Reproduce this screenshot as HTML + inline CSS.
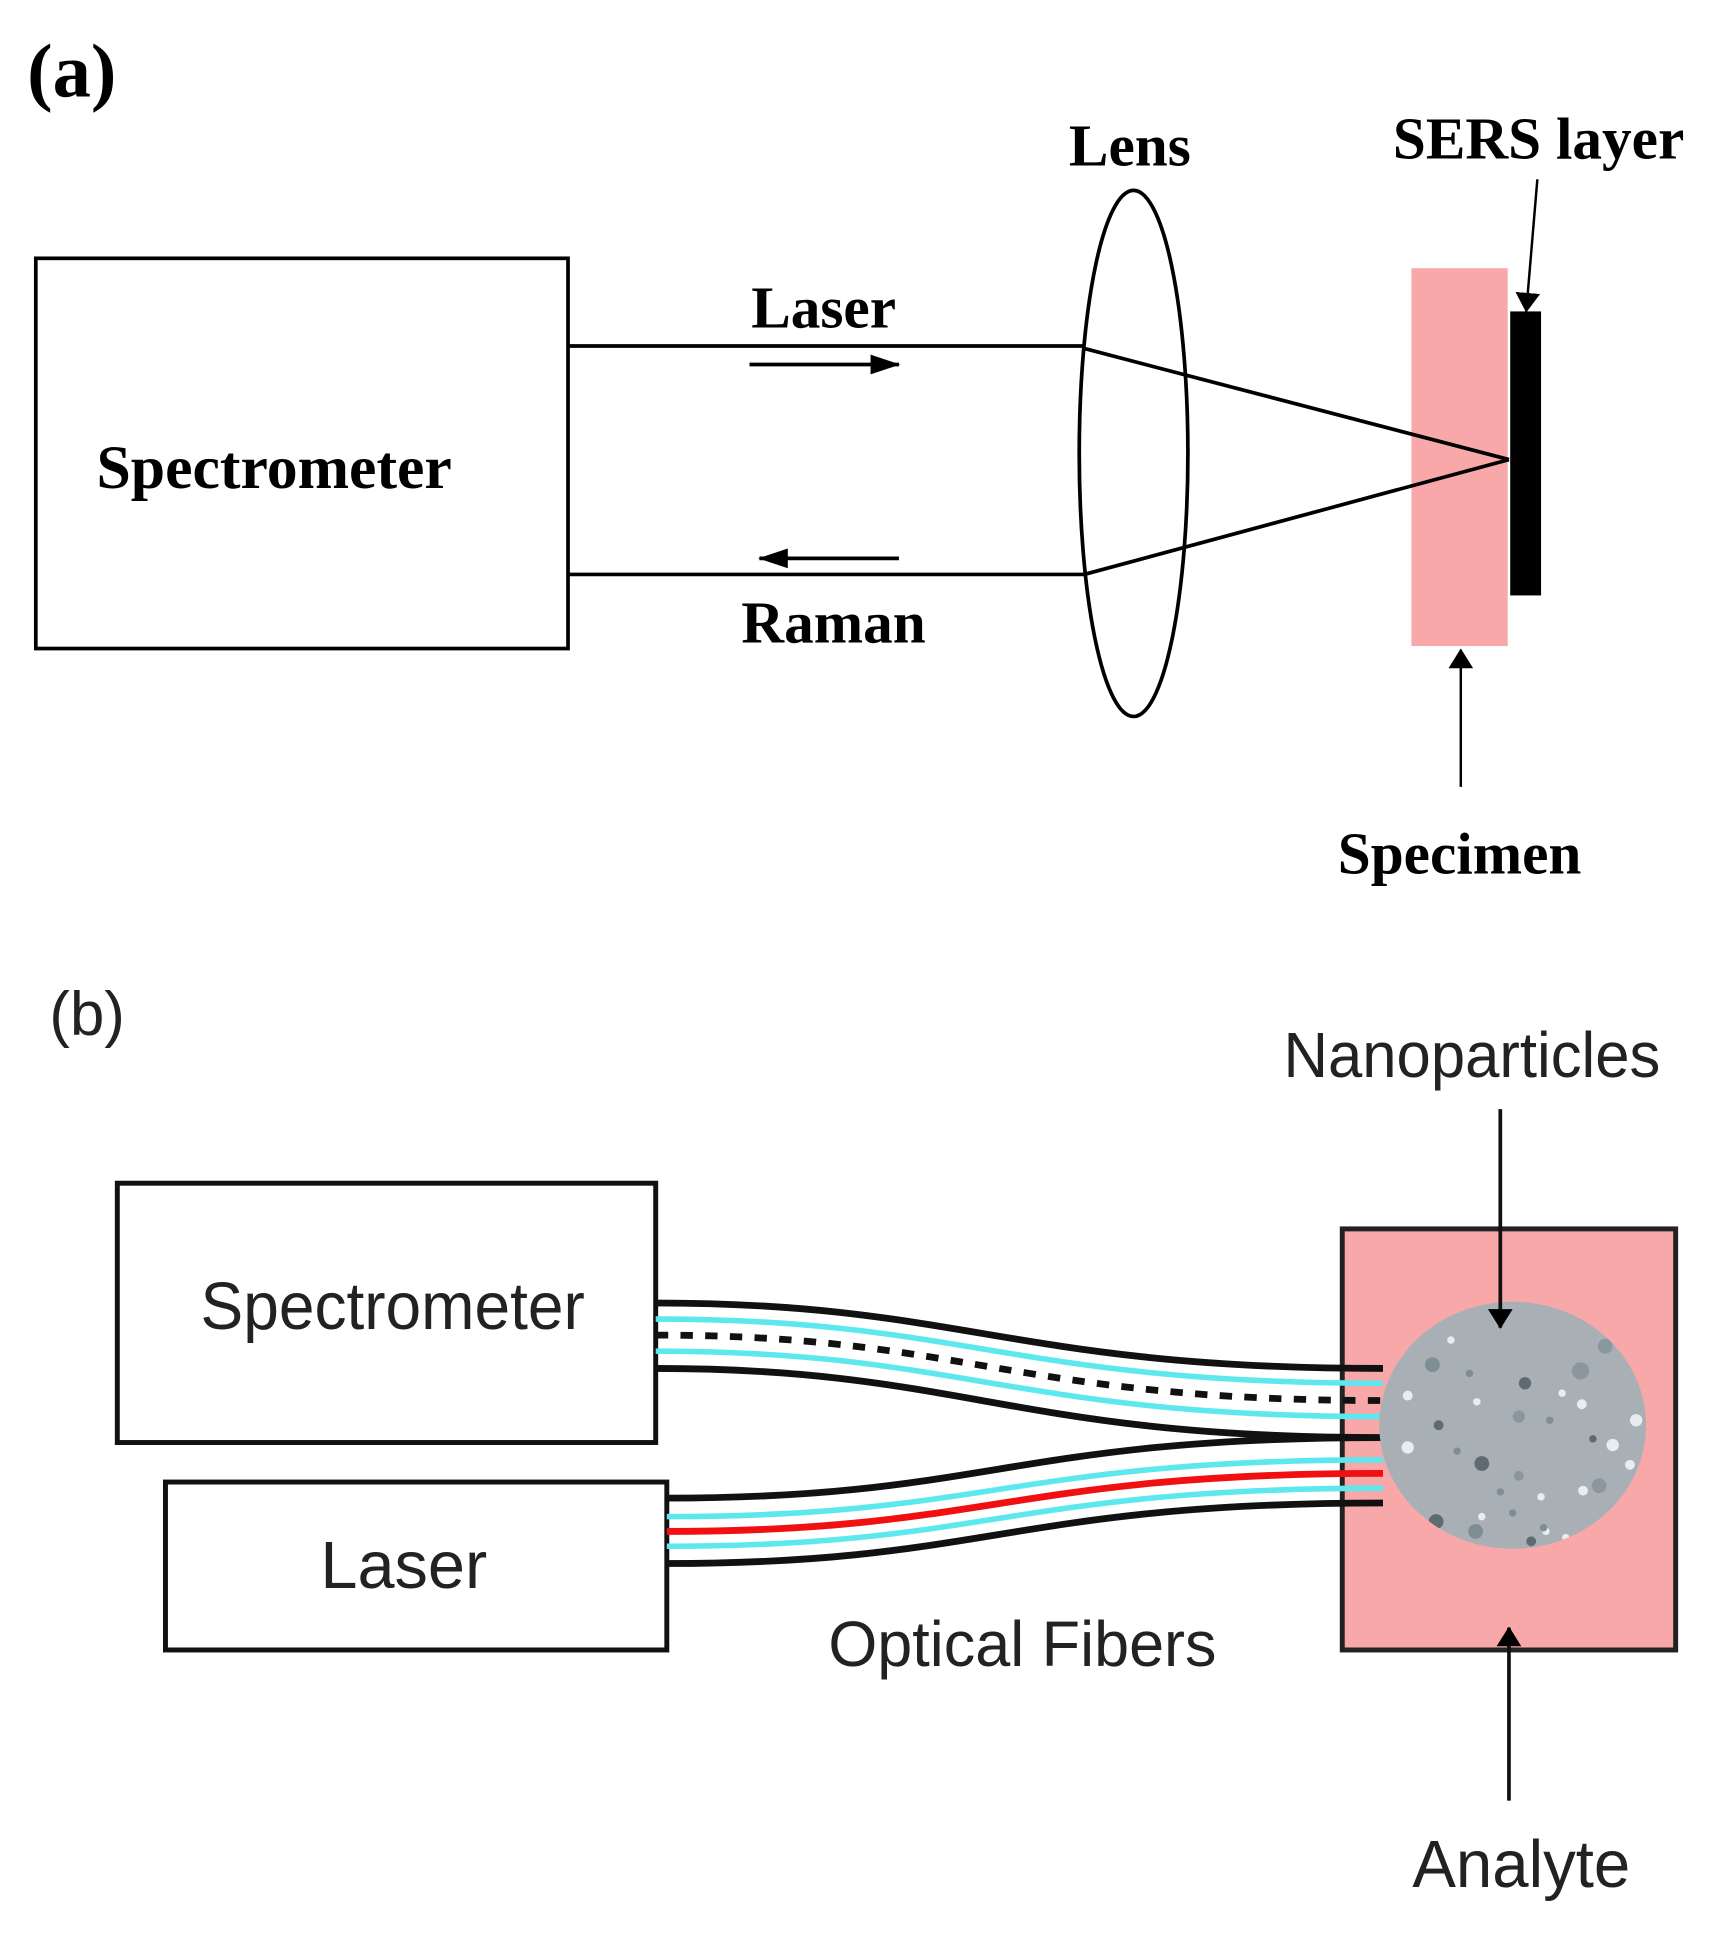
<!DOCTYPE html>
<html><head><meta charset="utf-8"><style>html,body{margin:0;padding:0;background:#fff}svg{display:block}</style></head>
<body>
<svg width="1709" height="1933" viewBox="0 0 1384 1565" xmlns="http://www.w3.org/2000/svg">
<defs>
<marker id="ah2" markerWidth="16" markerHeight="20" refX="15" refY="10" orient="auto" markerUnits="userSpaceOnUse"><path d="M0,0 L16,10 L0,20 Z" fill="#000"/></marker>
<marker id="ah3" markerWidth="24" markerHeight="16" refX="23" refY="8" orient="auto" markerUnits="userSpaceOnUse"><path d="M0,0 L24,8 L0,16 Z" fill="#000"/></marker>
<clipPath id="cp"><ellipse cx="1225" cy="1154" rx="108" ry="100"/></clipPath>
</defs>
<g font-family="'Liberation Serif', serif" font-weight="bold" fill="#000">
<text x="22" y="78" font-size="62">(a)</text>
<text x="915" y="134" font-size="48" text-anchor="middle">Lens</text>
<text x="1246" y="128" font-size="48" text-anchor="middle">SERS layer</text>
<text x="222" y="395" font-size="50" text-anchor="middle">Spectrometer</text>
<text x="667" y="265" font-size="48" text-anchor="middle">Laser</text>
<text x="675" y="520" font-size="48" text-anchor="middle">Raman</text>
<text x="1182" y="707" font-size="48" text-anchor="middle">Specimen</text>
</g>
<rect x="29" y="209" width="431" height="316" fill="none" stroke="#000" stroke-width="3"/>
<line x1="460" y1="280" x2="878" y2="280" stroke="#000" stroke-width="3"/>
<line x1="460" y1="465" x2="878" y2="465" stroke="#000" stroke-width="3"/>
<line x1="607" y1="295" x2="728" y2="295" stroke="#000" stroke-width="3" marker-end="url(#ah3)"/>
<line x1="728" y1="452" x2="615" y2="452" stroke="#000" stroke-width="3" marker-end="url(#ah3)"/>
<ellipse cx="918" cy="367" rx="44" ry="213" fill="none" stroke="#000" stroke-width="3"/>
<rect x="1143" y="217" width="78" height="306" fill="#f8a8a8"/>
<line x1="878" y1="282" x2="1222" y2="372" stroke="#000" stroke-width="3"/>
<line x1="878" y1="465" x2="1222" y2="372" stroke="#000" stroke-width="3"/>
<rect x="1223" y="252" width="25" height="230" fill="#000"/>
<line x1="1245" y1="145" x2="1236" y2="252" stroke="#000" stroke-width="2" marker-end="url(#ah2)"/>
<line x1="1183" y1="637" x2="1183" y2="526" stroke="#000" stroke-width="2" marker-end="url(#ah2)"/>

<g font-family="'Liberation Sans', sans-serif" fill="#222">
<text x="40" y="838" font-size="50">(b)</text>
<text x="1192" y="872" font-size="52" text-anchor="middle" transform="translate(1192 0) scale(0.96 1) translate(-1192 0)">Nanoparticles</text>
<text x="318" y="1076" font-size="54" text-anchor="middle" transform="translate(318 0) scale(0.96 1) translate(-318 0)">Spectrometer</text>
<text x="327" y="1286" font-size="54" text-anchor="middle">Laser</text>
<text x="828" y="1349" font-size="52" text-anchor="middle" transform="translate(828 0) scale(0.98 1) translate(-828 0)">Optical Fibers</text>
<text x="1232" y="1528" font-size="54" text-anchor="middle" transform="translate(1232 0) scale(0.98 1) translate(-1232 0)">Analyte</text>
</g>
<rect x="95" y="958" width="436" height="210" fill="none" stroke="#111" stroke-width="4"/>
<rect x="134" y="1200" width="406" height="136" fill="none" stroke="#111" stroke-width="4"/>
<rect x="1087" y="995" width="270" height="341" fill="#f8a8a8" stroke="#222" stroke-width="4"/>
<g fill="none" stroke-width="5.5">
<path d="M531,1055 C780,1055 820,1108 1120,1108" stroke="#111"/>
<path d="M531,1068 C780,1068 820,1120 1120,1120" stroke="#5ce8ee" stroke-width="4.5"/>
<path d="M531,1081 C780,1081 820,1134 1120,1134" stroke="#111" stroke-dasharray="10 10"/>
<path d="M531,1094 C780,1094 820,1147 1120,1147" stroke="#5ce8ee" stroke-width="4.5"/>
<path d="M531,1108 C780,1108 820,1164 1120,1164" stroke="#111"/>
<path d="M540,1213 C800,1213 820,1164 1120,1164" stroke="#111"/>
<path d="M540,1228 C800,1228 820,1182 1120,1182" stroke="#5ce8ee" stroke-width="4.5"/>
<path d="M540,1240 C800,1240 820,1193 1120,1193" stroke="#f01010"/>
<path d="M540,1252 C800,1252 820,1205 1120,1205" stroke="#5ce8ee" stroke-width="4.5"/>
<path d="M540,1266 C800,1266 820,1217 1120,1217" stroke="#111"/>
</g>
<ellipse cx="1225" cy="1154" rx="108" ry="100" fill="#a8b0b6"/>
<g clip-path="url(#cp)">
<circle cx="1160" cy="1105" r="6" fill="#7f8d95"/><circle cx="1190" cy="1112" r="3" fill="#7f8d95"/>
<circle cx="1235" cy="1120" r="5" fill="#5f6b72"/><circle cx="1280" cy="1110" r="7" fill="#8a979e"/>
<circle cx="1196" cy="1135" r="3" fill="#e8eef0"/><circle cx="1230" cy="1147" r="5" fill="#8a979e"/>
<circle cx="1281" cy="1137" r="4" fill="#e8eef0"/><circle cx="1165" cy="1154" r="4" fill="#5f6b72"/>
<circle cx="1140" cy="1172" r="5" fill="#e8eef0"/><circle cx="1200" cy="1185" r="6" fill="#5f6b72"/>
<circle cx="1230" cy="1195" r="4" fill="#8a979e"/><circle cx="1282" cy="1207" r="4" fill="#e8eef0"/>
<circle cx="1295" cy="1203" r="6" fill="#8a979e"/><circle cx="1306" cy="1170" r="5" fill="#e8eef0"/>
<circle cx="1320" cy="1186" r="4" fill="#e8eef0"/><circle cx="1163" cy="1232" r="6" fill="#5f6b72"/>
<circle cx="1200" cy="1228" r="3" fill="#e8eef0"/><circle cx="1240" cy="1248" r="4" fill="#5f6b72"/>
<circle cx="1195" cy="1240" r="6" fill="#7f8d95"/><circle cx="1252" cy="1240" r="3" fill="#e8eef0"/>
<circle cx="1268" cy="1245" r="3" fill="#e8eef0"/><circle cx="1140" cy="1130" r="4" fill="#e8eef0"/>
<circle cx="1250" cy="1237" r="3" fill="#7f8d95"/><circle cx="1225" cy="1225" r="3" fill="#7f8d95"/>
<circle cx="1248" cy="1212" r="3" fill="#e8eef0"/><circle cx="1215" cy="1208" r="3" fill="#7f8d95"/>
<circle cx="1180" cy="1175" r="3" fill="#7f8d95"/><circle cx="1290" cy="1165" r="3" fill="#5f6b72"/>
<circle cx="1265" cy="1128" r="3" fill="#e8eef0"/><circle cx="1255" cy="1150" r="3" fill="#7f8d95"/>
<circle cx="1310" cy="1225" r="3" fill="#7f8d95"/><circle cx="1300" cy="1090" r="6" fill="#8a979e"/>
<circle cx="1175" cy="1085" r="3" fill="#e8eef0"/><circle cx="1325" cy="1150" r="5" fill="#e8eef0"/>
</g>
<line x1="1215" y1="898" x2="1215" y2="1075" stroke="#111" stroke-width="3" marker-end="url(#ah2)"/>
<line x1="1222" y1="1458" x2="1222" y2="1318" stroke="#111" stroke-width="3" marker-end="url(#ah2)"/>
</svg>
</body></html>
